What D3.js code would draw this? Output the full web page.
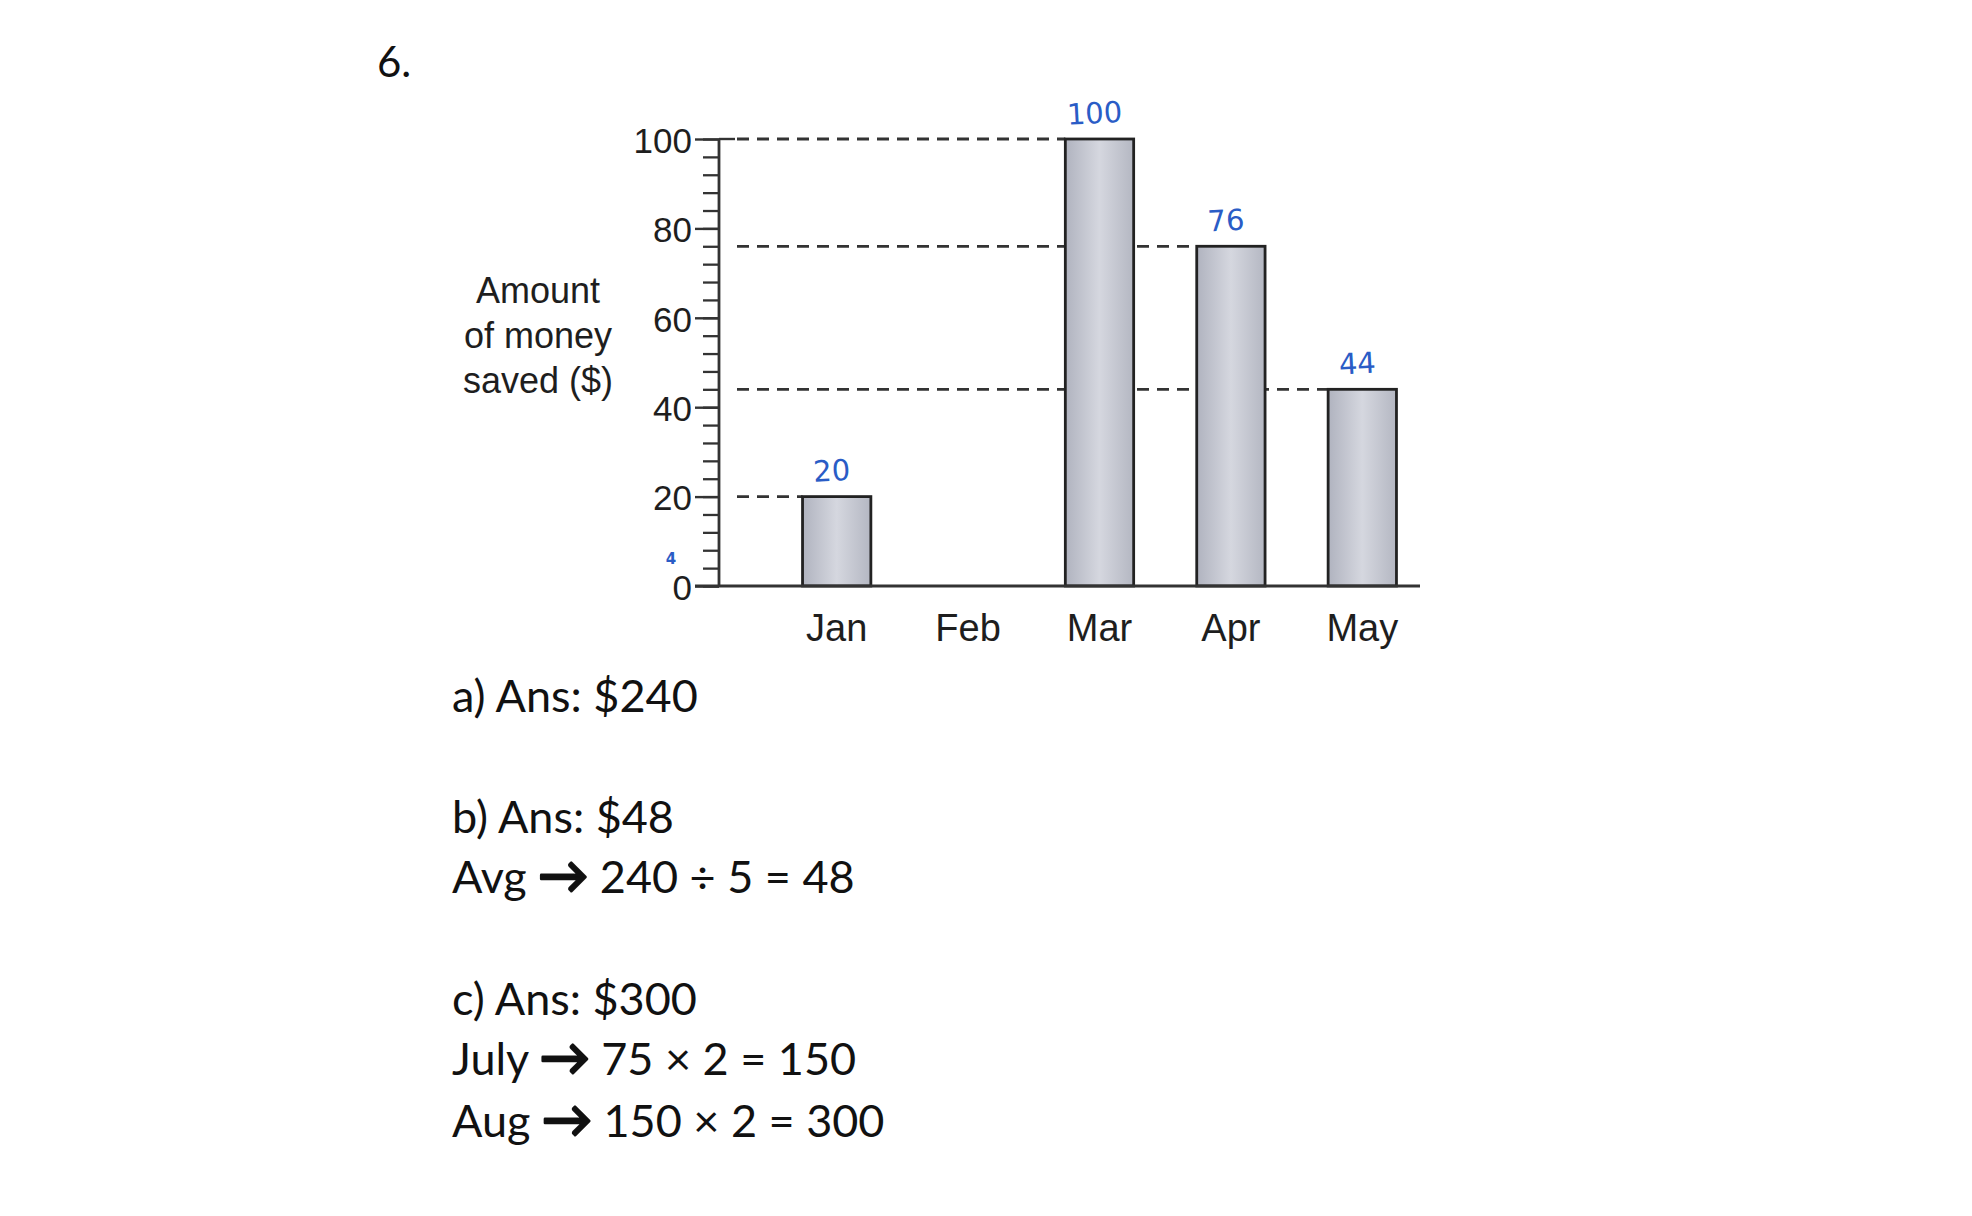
<!DOCTYPE html>
<html>
<head>
<meta charset="utf-8">
<script src="https://cdn.jsdelivr.net/npm/d3@7"></script>
<style>
  html, body { margin: 0; padding: 0; background: #fff; }
  svg { display: block; }
</style>
</head>
<body>
<svg id="chart" width="1972" height="1216"></svg>
<script>
// ---- data ----
const months = ["Jan", "Feb", "Mar", "Apr", "May"];
const saved = [20, 0, 100, 76, 44];
const handNotes = ["20", "", "100", "76", "44"];
const majorTicks = [0, 20, 40, 60, 80, 100];
const minorTicks = d3.range(0, 101, 4);
const yTitleLines = ["Amount", "of money", "saved ($)"];
const questionLabel = "6.";
const answerLines = [
  ["a) Ans: $240"],
  ["b) Ans: $48"],
  ["Avg ", "\u2192", " 240 \u00F7 5 = 48"],
  ["c) Ans: $300"],
  ["July ", "\u2192", " 75 \u00D7 2 = 150"],
  ["Aug ", "\u2192", " 150 \u00D7 2 = 300"]
];
const answerGaps = [0, 121, 60, 122, 60, 62];

// ---- layout ----
const svg = d3.select("#chart");
const axisX = 719, y0 = 586, y100 = 139;
const chartFont = "'Liberation Sans', Arial, sans-serif";
const noteFont = "'DejaVu Sans', sans-serif";
const textFont = "Lato, 'Open Sans', sans-serif";
const ink = "#1e1e1e";
const blue = "#2a5cc6";

const y = d3.scaleLinear().domain([0, 100]).range([y0, y100]);
const x = d3.scaleBand().domain(months).range([771, 1428])
  .paddingInner(0.48).paddingOuter(0.24);

// gradient for bars
const defs = svg.append("defs");
const grad = defs.append("linearGradient").attr("id", "barGrad")
  .attr("x1", "0%").attr("x2", "100%").attr("y1", "0%").attr("y2", "0%");
grad.append("stop").attr("offset", "0%").attr("stop-color", "#b0b3bf");
grad.append("stop").attr("offset", "50%").attr("stop-color", "#d5d7df");
grad.append("stop").attr("offset", "100%").attr("stop-color", "#b4b7c2");

// question number
svg.append("text").attr("x", 377).attr("y", 77)
  .attr("font-family", textFont).attr("font-size", 42).attr("fill", "#111")
  .text(questionLabel);

// dashed guide lines (behind bars)
const data = months.map((m, i) => ({ m, v: saved[i], note: handNotes[i] }));
svg.append("g").selectAll("line").data(data.filter(d => d.v > 0)).join("line")
  .attr("x1", axisX + 18).attr("x2", d => x(d.m))
  .attr("y1", d => y(d.v)).attr("y2", d => y(d.v))
  .attr("stroke", "#333").attr("stroke-width", 2.8)
  .attr("stroke-dasharray", "12,8");

// bars
svg.append("g").selectAll("rect").data(data.filter(d => d.v > 0)).join("rect")
  .attr("x", d => x(d.m)).attr("width", x.bandwidth())
  .attr("y", d => y(d.v)).attr("height", d => y(0) - y(d.v))
  .attr("fill", "url(#barGrad)").attr("stroke", "#222").attr("stroke-width", 2.8);

// y axis minor ticks
const minorAxis = d3.axisLeft(y).tickValues(minorTicks).tickSize(16).tickFormat("");
const gMinor = svg.append("g").attr("transform", `translate(${axisX},0)`).call(minorAxis);
gMinor.select(".domain").remove();
gMinor.selectAll(".tick line").attr("stroke", "#333").attr("stroke-width", 2.3);

// y axis major ticks
const majorAxis = d3.axisLeft(y).tickValues(majorTicks).tickSize(24).tickPadding(3);
const gMajor = svg.append("g").attr("transform", `translate(${axisX},0)`).call(majorAxis);
gMajor.select(".domain").attr("stroke", "#333").attr("stroke-width", 2.8)
  .attr("d", `M0,${y0}V${y100}`);
gMajor.selectAll(".tick line").attr("stroke", "#333").attr("stroke-width", 2.4);
gMajor.selectAll(".tick text").attr("font-family", chartFont).attr("font-size", 35)
  .attr("fill", ink).attr("dy", "0.38em");
// top tick extends to the right as well
svg.append("line").attr("x1", axisX).attr("x2", axisX + 16)
  .attr("y1", y(100)).attr("y2", y(100)).attr("stroke", "#333").attr("stroke-width", 2.4);

// baseline
svg.append("line").attr("x1", axisX - 24).attr("x2", x.range()[1] - 8)
  .attr("y1", y0).attr("y2", y0).attr("stroke", "#333").attr("stroke-width", 2.8);

// x labels
const xAxis = d3.axisBottom(x).tickSize(0).tickPadding(28);
const gX = svg.append("g").attr("transform", `translate(0,${y0})`).call(xAxis);
gX.select(".domain").remove();
gX.selectAll(".tick text").attr("font-family", chartFont).attr("font-size", 38)
  .attr("fill", ink).attr("dy", "0.71em");

// y title
svg.append("text").attr("x", 538).attr("y", 303)
  .attr("font-family", chartFont).attr("font-size", 36).attr("fill", ink)
  .attr("text-anchor", "middle")
  .selectAll("tspan").data(yTitleLines).join("tspan")
  .attr("x", 538).attr("dy", (d, i) => i === 0 ? 0 : 45).text(d => d);

// hand-written notes (blue)
svg.append("g").selectAll("text").data(data.filter(d => d.note)).join("text")
  .attr("x", d => x(d.m) + x.bandwidth() / 2 - 5)
  .attr("y", d => y(d.v) - 16)
  .attr("text-anchor", "middle")
  .attr("font-family", noteFont)
  .attr("font-size", 29).attr("fill", blue)
  .attr("transform", d => `rotate(-3 ${x(d.m) + x.bandwidth() / 2} ${y(d.v) - 26})`)
  .text(d => d.note);
svg.append("text").attr("x", 671).attr("y", y(0) - 22)
  .attr("text-anchor", "middle").attr("font-family", noteFont)
  .attr("font-size", 15).attr("font-weight", "bold").attr("fill", blue).text("4");

// answers
let yy = 712;
const gA = svg.append("g");
answerLines.forEach((parts, i) => {
  yy += answerGaps[i];
  const t = gA.append("text").attr("x", 452).attr("y", yy)
    .attr("font-family", textFont).attr("font-size", 45).attr("fill", "#111")
    .attr("xml:space", "preserve");
  parts.forEach(p => {
    const s = t.append("tspan").text(p);
    if (p === "\u2192") s.attr("font-size", 50).attr("stroke", "#111")
      .attr("stroke-width", 2.6).attr("stroke-linejoin", "round");
  });
});
</script>
</body>
</html>
